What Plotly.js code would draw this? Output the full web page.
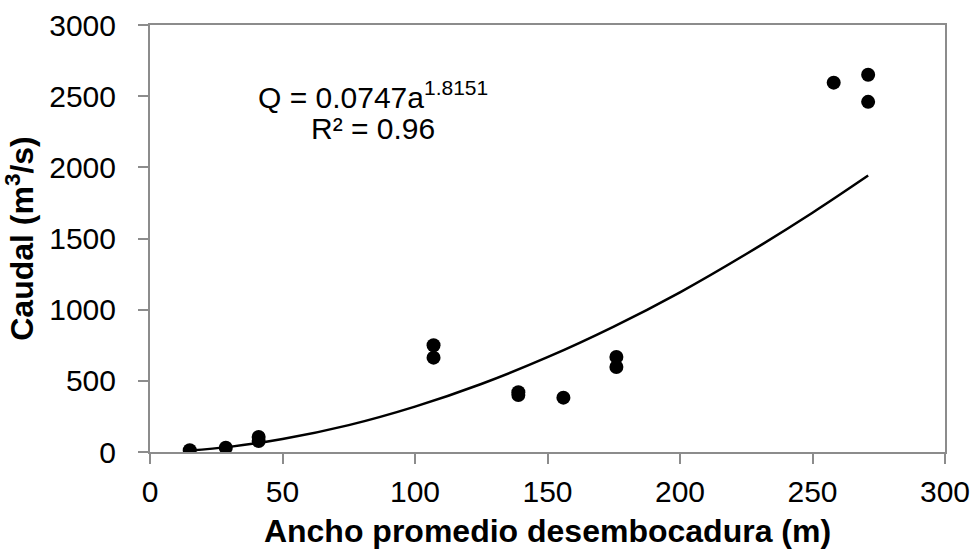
<!DOCTYPE html>
<html>
<head>
<meta charset="utf-8">
<script src="https://cdn.plot.ly/plotly-3.0.1.min.js"></script>
<style>html,body{margin:0;padding:0;background:#fff;}#chart{width:975px;height:552px;}</style>
</head>
<body>
<div id="chart"></div>
<script>
const anchoX = [15, 28.6, 41, 41, 107, 107, 139, 139, 156, 176, 176, 258, 271, 271];
const caudalY = [12, 30, 105, 77, 750, 663, 420, 400, 382, 668, 597, 2595, 2650, 2460];
// Trend line points
const trendX = [15, 30, 50, 75, 100, 125, 150, 175, 200, 225, 250, 271];
const trendY = [10, 36, 91, 189, 319, 478, 666, 881, 1122, 1391, 1681, 1942];
const xTicks = [0, 50, 100, 150, 200, 250, 300];
const yTicks = [0, 500, 1000, 1500, 2000, 2500, 3000];

const font = 'Liberation Sans, Arial, sans-serif';
const traces = [
  {x: trendX, y: trendY, mode: 'lines', line: {color: '#000', width: 2.5, shape: 'spline'}, hoverinfo: 'skip'},
  {x: anchoX, y: caudalY, mode: 'markers', marker: {color: '#000', size: 14}}
];
const axisCommon = {
  showgrid: false, zeroline: false, showline: true, linecolor: '#8c8c8c', linewidth: 2,
  mirror: true, ticks: 'outside', ticklen: 10, tickcolor: '#8c8c8c', tickwidth: 2,
  tickfont: {family: font, size: 30, color: '#000'}
};
const layout = {
  width: 975, height: 552, showlegend: false,
  paper_bgcolor: '#fff', plot_bgcolor: '#fff',
  margin: {l: 150, r: 30, t: 25, b: 100},
  xaxis: Object.assign({}, axisCommon, {range: [0, 300], tickvals: xTicks, ticktext: xTicks.map(String),
    ticklabelstandoff: 2,
    title: {text: '<b>Ancho promedio desembocadura (m)</b>', font: {family: font, size: 32, color: '#000'}, standoff: 13}}),
  yaxis: Object.assign({}, axisCommon, {range: [0, 3000], tickvals: yTicks, ticktext: yTicks.map(String),
    ticklabelstandoff: 16,
    title: {text: '<b>Caudal (m<sup>3</sup>/s)</b>', font: {family: font, size: 32, color: '#000'}, standoff: 6}}),
  annotations: [
    {xref: 'x', yref: 'y', x: 84, y: 2505, text: 'Q = 0.0747a<sup>1.8151</sup>', showarrow: false,
     font: {family: font, size: 30, color: '#000'}, xanchor: 'center', yanchor: 'middle'},
    {xref: 'x', yref: 'y', x: 84, y: 2270, text: 'R² = 0.96', showarrow: false,
     font: {family: font, size: 30, color: '#000'}, xanchor: 'center', yanchor: 'middle'}
  ]
};
Plotly.newPlot('chart', traces, layout, {displayModeBar: false, staticPlot: true});
</script>
</body>
</html>
